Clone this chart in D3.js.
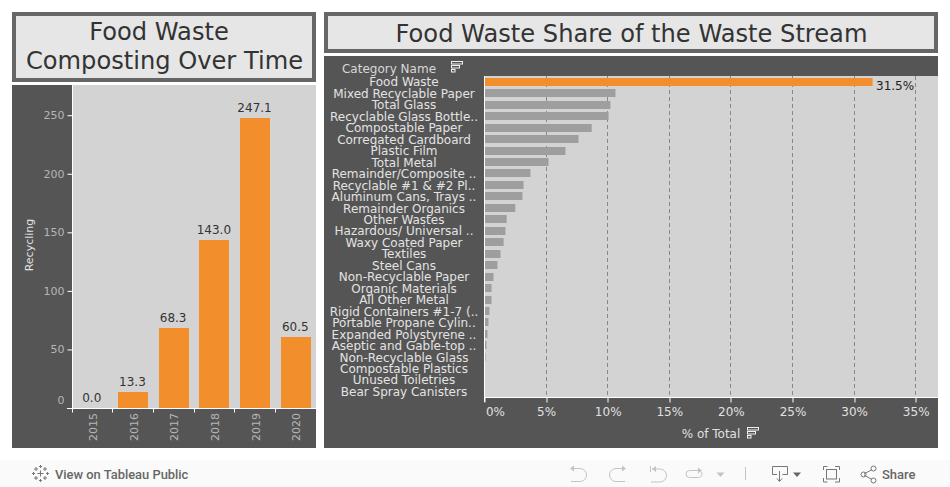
<!DOCTYPE html>
<html><head><meta charset="utf-8">
<script src="https://cdn.jsdelivr.net/npm/d3@7"></script>
<style>html,body{margin:0;padding:0;background:#fff;overflow:hidden}svg{display:block}text{font-family:"DejaVu Sans",sans-serif}</style>
</head><body><svg id="c" width="950" height="487"></svg>
<script>
const years = ["2015","2016","2017","2018","2019","2020"];
const recycling = [0.0,13.3,68.3,143.0,247.1,60.5];
const yTicks = [0,50,100,150,200,250];
const categories = ["Food Waste","Mixed Recyclable Paper","Total Glass","Recyclable Glass Bottle..","Compostable Paper","Corregated Cardboard","Plastic Film","Total Metal","Remainder/Composite ..","Recyclable #1 & #2 Pl..","Aluminum Cans, Trays ..","Remainder Organics","Other Wastes","Hazardous/ Universal ..","Waxy Coated Paper","Textiles","Steel Cans","Non-Recyclable Paper","Organic Materials","All Other Metal","Rigid Containers #1-7 (..","Portable Propane Cylin..","Expanded Polystyrene ..","Aseptic and Gable-top ..","Non-Recyclable Glass","Compostable Plastics","Unused Toiletries","Bear Spray Canisters"];
const shares = [31.5,10.63,10.22,10.07,8.7,7.63,6.57,5.2,3.73,3.17,3.08,2.5,1.8,1.7,1.55,1.3,1.05,0.73,0.57,0.57,0.4,0.32,0.24,0.16,0.08,0.01,0,0];
const shareTicks = [0,5,10,15,20,25,30,35];

const svg = d3.select("#c");
const DARK="#555555", PLOT="#d3d3d3", ORANGE="#f28e2b", GREY="#9e9e9e";
const box=(x,y,w,h,f)=>svg.append("rect").attr("x",x).attr("y",y).attr("width",w).attr("height",h).attr("fill",f);
const txt=(x,y,s,size,fill,anchor="middle")=>svg.append("text").attr("x",x).attr("y",y).attr("font-size",size).attr("fill",fill).attr("text-anchor",anchor).text(s);

// titles
box(12,12,304,70,"#666666"); box(16,16,296,62,"#e6e6e6");
box(324,12,614,41,"#666666"); box(328,16,606,33,"#e6e6e6");
txt(159,40,"Food Waste",24.15,"#333333");
txt(164.5,68.5,"Composting Over Time",24.15,"#333333");
txt(631.5,41.5,"Food Waste Share of the Waste Stream",24.15,"#333333");

// left panel
box(12,85,304,363,DARK);
box(73,85,243,323,PLOT);
const x1=d3.scaleBand().domain(years).range([72,316.2]).paddingInner(0.26).paddingOuter(0.13);
const y1=d3.scaleLinear().domain([0,250]).range([408,115.2]);
svg.append("g").selectAll("rect").data(recycling).join("rect")
 .attr("x",(d,i)=>Math.round(x1(years[i]))).attr("width",30)
 .attr("y",d=>Math.floor(y1(d))).attr("height",d=>y1(0)-Math.floor(y1(d))).attr("fill",ORANGE);
svg.append("g").selectAll("text").data(recycling).join("text")
 .attr("x",(d,i)=>x1(years[i])+x1.bandwidth()/2-0.6).attr("y",d=>Math.floor(y1(d))-6)
 .attr("text-anchor","middle").attr("font-size",12).attr("fill","#333333").text(d=>d.toFixed(1));
const yAx=svg.append("g").attr("transform","translate(72.5,0)").call(d3.axisLeft(y1).tickValues(yTicks).tickSize(5).tickPadding(3));
yAx.select(".domain").attr("stroke","#fff").attr("d","M0,85V408.5");
yAx.selectAll("line").attr("stroke","#fff");
yAx.selectAll("text").attr("font-size",11).attr("fill","#b5b5b5").attr("font-family","DejaVu Sans").attr("dy",d=>d===0?"-0.45em":"0.32em");
const yy=408.5;
svg.append("line").attr("x1",67).attr("x2",316).attr("y1",yy).attr("y2",yy).attr("stroke","#fff");
svg.append("g").selectAll("line").data(years).join("line")
 .attr("x1",d=>Math.floor(x1(d)-x1.step()*0.13)+0.5).attr("x2",d=>Math.floor(x1(d)-x1.step()*0.13)+0.5)
 .attr("y1",yy).attr("y2",yy+4).attr("stroke","#fff");
svg.append("g").selectAll("text").data(years).join("text")
 .attr("transform",d=>`translate(${x1(d)+x1.bandwidth()/2+4.5},441) rotate(-90)`)
 .attr("font-size",11).attr("fill","#b5b5b5").text(d=>d);
svg.append("text").attr("transform","translate(33,245) rotate(-90)").attr("text-anchor","middle").attr("font-size",11).attr("fill","#e0e0e0").text("Recycling");

// right panel
box(324,56,614,392,DARK);
box(484,76,454,321,PLOT);
const x2=d3.scaleLinear().domain([0,35]).range([484.5,915.7]);
const y2=d3.scaleBand().domain(categories).range([76.08,396.96]).paddingInner(0.3).paddingOuter(0.15);
svg.append("g").selectAll("line").data(shareTicks.slice(1)).join("line")
 .attr("x1",d=>Math.floor(x2(d))+0.5).attr("x2",d=>Math.floor(x2(d))+0.5).attr("y1",76).attr("y2",397)
 .attr("stroke","#888888").attr("stroke-dasharray","4 3");
svg.append("g").selectAll("rect").data(shares).join("rect")
 .attr("x",485).attr("width",d=>Math.max(0,x2(d)-485))
 .attr("y",(d,i)=>Math.round(y2(categories[i]))).attr("height",8)
 .attr("fill",(d,i)=>i===0?ORANGE:GREY);
txt(876,90,"31.5%",12,"#222222","start");
svg.append("g").selectAll("text").data(categories).join("text")
 .attr("x",404).attr("y",d=>Math.round(y2(d)+8.69))
 .attr("text-anchor","middle").attr("font-size",12).attr("fill","#e3e3e3").text(d=>d);
txt(389,73,"Category Name",12,"#d8d8d8");
const xAx=svg.append("g").attr("transform","translate(0,397.5)").call(d3.axisBottom(x2).tickValues(shareTicks).tickSize(5).tickPadding(5).tickFormat(d=>d+"%"));
xAx.select(".domain").attr("stroke","#fff").attr("d","M484,0H938");
xAx.selectAll("line").attr("stroke","#fff").attr("x1",d=>Math.floor(x2(d))+0.5-x2(d)).attr("x2",d=>Math.floor(x2(d))+0.5-x2(d));
xAx.selectAll("text").attr("font-size",12).attr("fill","#e0e0e0").attr("font-family","DejaVu Sans");
xAx.selectAll(".tick text").attr("dx",d=>d===0?"10.5":"0");
svg.append("line").attr("x1",484.5).attr("x2",484.5).attr("y1",76).attr("y2",402).attr("stroke","#fff");
txt(711,438,"% of Total",12,"#e0e0e0");

function sortIcon(x,y){
 const g=svg.append("g").attr("transform",`translate(${x},${y})`).attr("fill","none").attr("stroke","#f0f0f0");
 g.append("rect").attr("x",.5).attr("y",.5).attr("width",11).attr("height",2.5);
 g.append("rect").attr("x",.5).attr("y",4.5).attr("width",8).attr("height",2.5);
 g.append("rect").attr("x",.5).attr("y",8.5).attr("width",3.5).attr("height",2.5);
}
sortIcon(451,61); sortIcon(747,427);

// toolbar
box(0,460,950,27,"#fafafa");
txt(55,478.5,"View on Tableau Public",12.9,"#666666","start").style("font-family","Roboto").style("font-weight",500);
txt(882,478.5,"Share",13,"#666666","start").style("font-family","Roboto").style("font-weight",500);
const tb=svg.append("g").attr("fill","none").attr("stroke","#c4c4c4").attr("stroke-width",1);
const dark=svg.append("g").attr("fill","none").attr("stroke","#777777").attr("stroke-width",1);
// tableau logo: plus signs (centre x, centre y, arm)
[[40.5,473.5,3],[40.5,466.5,1.5],[40.5,480.5,1.5],[33.5,473.5,1.5],[47.5,473.5,1.5],[36,469,2],[45,469,2],[36,478,2],[45,478,2]].forEach(p=>{
 dark.append("path").attr("d",`M${p[0]-p[2]},${p[1]}h${2*p[2]}M${p[0]},${p[1]-p[2]}v${2*p[2]}`);
});
tb.append("path").attr("d","M571,468.5h9a6.5,6.5 0 0 1 0,13h-9");
svg.append("path").attr("d","M570,468.5l4,-3v6z").attr("fill","#c4c4c4");
tb.append("path").attr("d","M625,468.5h-9a6.5,6.5 0 0 0 0,13h9");
svg.append("path").attr("d","M626,468.5l-4,-3v6z").attr("fill","#c4c4c4");
tb.append("path").attr("d","M650.5,466v6M652,469h8a6.5,6.5 0 0 1 0,13h-9");
svg.append("path").attr("d","M652,469l4,-3v6z").attr("fill","#c4c4c4");
tb.append("path").attr("d","M699,470.5h-9.5a3.5,3.5 0 0 0 0,7h9a3.5,3.5 0 0 0 2.5,-6");
svg.append("path").attr("d","M702,470.5l-4,-3v6z").attr("fill","#c4c4c4");
svg.append("path").attr("d","M716.5,472.5h8l-4,4.5z").attr("fill","#c4c4c4");
tb.append("line").attr("x1",745.5).attr("x2",745.5).attr("y1",467).attr("y2",480);
dark.append("path").attr("d","M777,474.5h-4.5v-8h15v8h-5M779.5,471v10M777,478.5l2.5,3l2.5,-3");
svg.append("path").attr("d","M793,472.5h8l-4,4.5z").attr("fill","#666666");
dark.append("path").attr("d","M823.5,470v-3.5h4M835,466.5h4.5v3.5M839.5,478v4h-4.5M827.5,482h-4v-4");
dark.append("rect").attr("x",826.5).attr("y",469.5).attr("width",10).attr("height",9.5);
dark.append("path").attr("d","M864,474l8,-4.5M864,475l8,4.5");
dark.append("circle").attr("cx",863.5).attr("cy",474.5).attr("r",2.5);
dark.append("circle").attr("cx",873.5).attr("cy",468.5).attr("r",2.5);
dark.append("circle").attr("cx",873.5).attr("cy",480.5).attr("r",2.5);
</script></body></html>
